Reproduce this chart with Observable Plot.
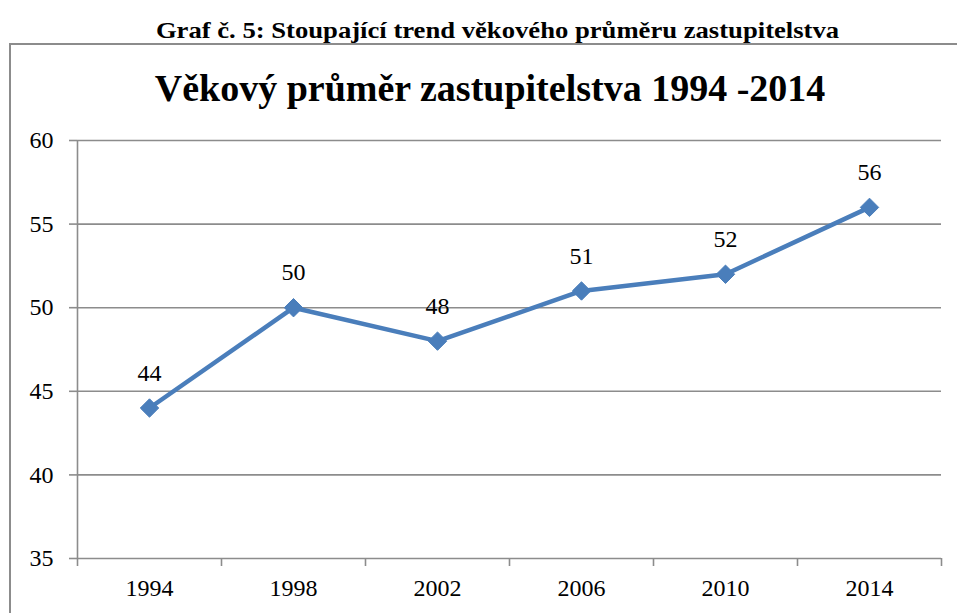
<!DOCTYPE html>
<html>
<head>
<meta charset="utf-8">
<script src="https://cdn.jsdelivr.net/npm/d3@7"></script>
<script src="https://cdn.jsdelivr.net/npm/@observablehq/plot@0.6"></script>
<style>
  html, body { margin: 0; padding: 0; background: #fff; }
  body { width: 957px; height: 613px; position: relative; overflow: hidden; font-family: "Liberation Serif", "Times New Roman", serif; }
  #caption { position: absolute; left: 0; width: 995px; top: 17px; text-align: center; font-weight: bold; font-size: 24px; line-height: 26px; color: #000; transform: scaleX(1.11); transform-origin: 497.5px 50%; }
  #frame { position: absolute; left: 9px; top: 43px; width: 1000px; height: 700px; border-left: 2px solid #8c8c8c; border-top: 2px solid #8c8c8c; }
  #title { position: absolute; left: 0; width: 980px; top: 64px; text-align: center; font-weight: bold; font-size: 38px; line-height: 48px; color: #000; }
  #chart { position: absolute; left: 0; top: 120px; }
  #chart svg, #chart svg text { font-family: "Liberation Serif", serif !important; }
</style>
</head>
<body>
<div id="caption">Graf č. 5: Stoupající trend věkového průměru zastupitelstva</div>
<div id="frame"></div>
<div id="title">Věkový průměr zastupitelstva 1994 -2014</div>
<div id="chart"></div>
<script>
const years = [1994, 1998, 2002, 2006, 2010, 2014];
const ages = [44, 50, 48, 51, 52, 56];
const yTicks = [35, 40, 45, 50, 55, 60];

const data = years.map((year, i) => ({year, age: ages[i]}));
const step = years[1] - years[0];
const boundaries = [...years.map(y => y - step / 2), years[years.length - 1] + step / 2];

const blue = "#4a7ebb";
const gray = "#8c8c8c";
const serif = "Liberation Serif, Times New Roman, serif";

const chart = Plot.plot({
  width: 957,
  height: 493,
  marginLeft: 77,
  marginRight: 16,
  marginTop: 20,
  marginBottom: 55,
  style: { fontFamily: serif, fontSize: "24px", color: "#000", background: "transparent" },
  x: { type: "linear", domain: [boundaries[0], boundaries[boundaries.length - 1]] },
  y: { domain: [35, 60] },
  marks: [
    Plot.ruleY(yTicks, { stroke: gray, strokeWidth: 1.6, strokeOpacity: 1 }),
    Plot.ruleX([boundaries[0]], { stroke: gray, strokeWidth: 1.6 }),
    Plot.axisY({ ticks: yTicks, tickSize: 8, tickPadding: 16, stroke: gray, strokeWidth: 1.6, strokeOpacity: 1, label: null, fill: "#000", fontFamily: serif, fontSize: 24 }),
    Plot.axisX({ ticks: boundaries, tickSize: 8, tickFormat: () => "", stroke: gray, strokeWidth: 1.6, strokeOpacity: 1, label: null }),
    Plot.axisX({ ticks: years, tickSize: 0, tickPadding: 20, tickFormat: d => String(d), label: null, fill: "#000", fontFamily: serif, fontSize: 24 }),
    Plot.line(data, { x: "year", y: "age", stroke: blue, strokeWidth: 4.5 }),
    Plot.dot(data, { x: "year", y: "age", symbol: "diamond2", r: 8.3, fill: blue, stroke: blue, strokeWidth: 1 }),
    Plot.text(data, { x: "year", y: "age", text: d => String(d.age), dy: -35, fill: "#000", fontSize: 24, fontFamily: serif })
  ]
});
document.getElementById("chart").appendChild(chart);
</script>
</body>
</html>
